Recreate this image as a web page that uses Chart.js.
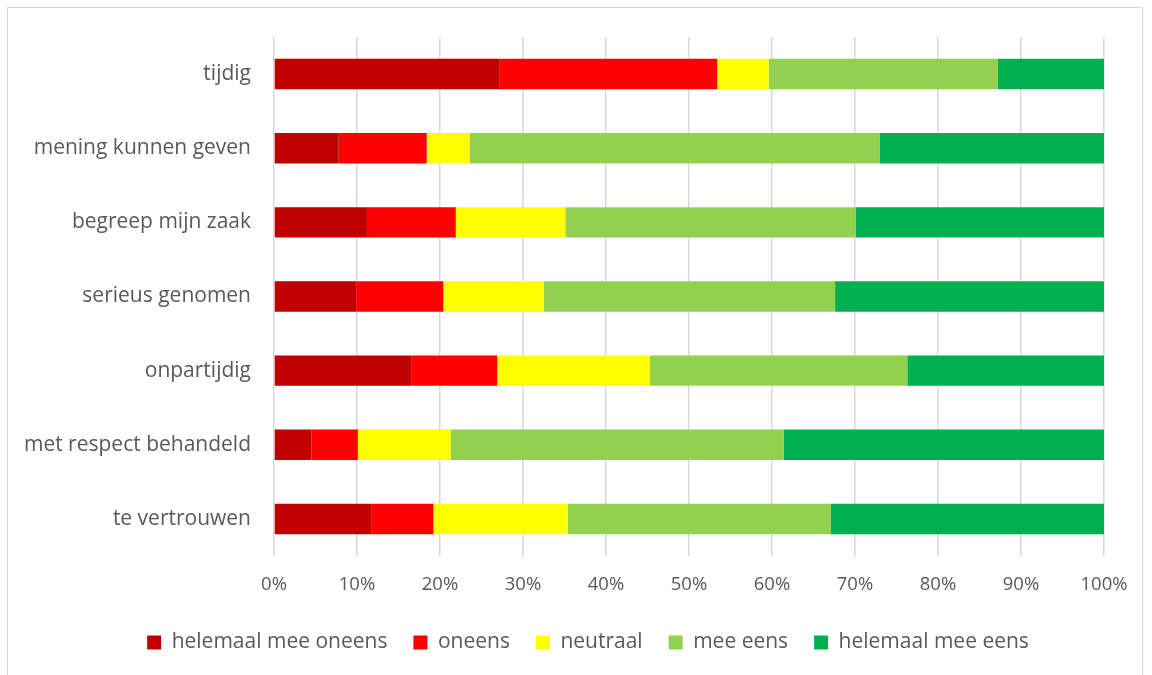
<!DOCTYPE html>
<html>
<head>
<meta charset="utf-8">
<script src="https://cdn.jsdelivr.net/npm/chart.js@4"></script>
<style>
  html, body { margin: 0; padding: 0; background: #fff; overflow: hidden; }
  #kader {
    position: absolute; left: 7px; top: 7px; width: 1136px; height: 680px;
    border: 1px solid #d9d9d9; border-bottom: none; box-sizing: border-box;
  }
  canvas { display: block; }
</style>
</head>
<body>
<div id="kader"><canvas id="grafiek" width="1134" height="655"></canvas></div>
<script>
// categorieën (van boven naar beneden)
const stellingen = ['tijdig', 'mening kunnen geven', 'begreep mijn zaak', 'serieus genomen',
  'onpartijdig', 'met respect behandeld', 'te vertrouwen'];

// percentages per antwoord
const helemaalOneens = [27.2, 7.8, 11.2, 9.9, 16.6, 4.5, 11.7];
const oneens         = [26.2, 10.6, 10.7, 10.5, 10.3, 5.6, 7.5];
const neutraal       = [6.2, 5.2, 13.2, 12.1, 18.4, 11.2, 16.2];
const meeEens        = [27.6, 49.4, 35.0, 35.1, 31.0, 40.1, 31.7];
const helemaalEens   = [12.8, 27.0, 29.9, 32.4, 23.7, 38.6, 32.9];

const asTicks = [0, 10, 20, 30, 40, 50, 60, 70, 80, 90, 100];

const tekstKleur = '#595959';
const lettertype = "'Open Sans', 'Lato', sans-serif";

function reeks(label, data, kleur) {
  return {
    label: label, data: data, backgroundColor: kleur, borderWidth: 0,
    barPercentage: 0.41, categoryPercentage: 1
  };
}

// legenda iets naar rechts, zoals in Excel (gecentreerd onder het hele figuur incl. labels)
const legendaVerschuiving = {
  id: 'legendaVerschuiving',
  afterLayout(chart) {
    chart.legend.left += 32;
    chart.legend.right += 32;
  }
};

new Chart(document.getElementById('grafiek').getContext('2d'), {
  type: 'bar',
  data: {
    labels: stellingen,
    datasets: [
      reeks('helemaal mee oneens', helemaalOneens, '#C00000'),
      reeks('oneens', oneens, '#FF0000'),
      reeks('neutraal', neutraal, '#FFFF00'),
      reeks('mee eens', meeEens, '#92D050'),
      reeks('helemaal mee eens', helemaalEens, '#00B050')
    ]
  },
  options: {
    indexAxis: 'y',
    responsive: false,
    animation: false,
    layout: { padding: { top: 29, right: 38, bottom: 0, left: 0 } },
    scales: {
      x: {
        stacked: true, min: 0, max: 100,
        afterBuildTicks: (as) => { as.ticks = asTicks.map(v => ({ value: v })); },
        afterFit: (as) => { as.height = 50; },
        ticks: {
          color: tekstKleur, font: { family: lettertype, size: 18.5 }, padding: 0,
          callback: (v) => v + '%'
        },
        grid: { color: '#d9d9d9', lineWidth: 1.5, drawTicks: true, tickLength: 18, tickColor: 'transparent' },
        border: { display: false }
      },
      y: {
        stacked: true,
        afterFit: (as) => { as.width = 266; },
        ticks: { color: tekstKleur, font: { family: lettertype, size: 21 }, padding: 0 },
        // onzichtbare tickstreepjes geven de afstand tussen label en balk
        grid: { display: false, drawTicks: true, tickLength: 23, tickColor: 'transparent' },
        border: { display: false }
      }
    },
    plugins: {
      legend: {
        position: 'bottom',
        labels: {
          color: tekstKleur, font: { family: lettertype, size: 21 },
          boxWidth: 14, boxHeight: 14, padding: 26
        }
      },
      tooltip: { enabled: false }
    }
  },
  plugins: [legendaVerschuiving]
});
</script>
</body>
</html>
